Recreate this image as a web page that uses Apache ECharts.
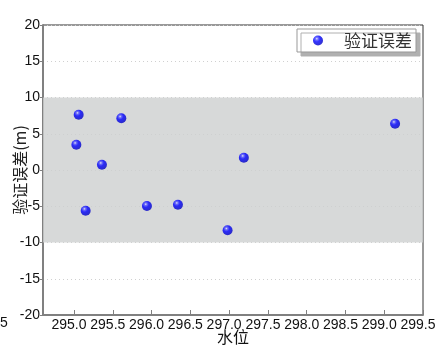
<!DOCTYPE html>
<html>
<head>
<meta charset="utf-8">
<script src="https://cdn.jsdelivr.net/npm/echarts@6/dist/echarts.min.js"></script>
<style>
  html, body { margin: 0; padding: 0; background: #fff; }
  #chart { width: 435px; height: 346px; }
</style>
</head>
<body>
<div id="chart"></div>
<script>
// Water level (x) and validation error in metres (y)
const waterLevel = [295.06, 295.61, 295.03, 295.36, 299.14, 297.19, 295.15, 295.94, 296.34, 296.98];
const errorValues = [7.63, 7.13, 3.49, 0.73, 6.39, 1.70, -5.61, -4.97, -4.79, -8.32];
const bandRange = [-10, 10];
const xTicks = [295.0, 295.5, 296.0, 296.5, 297.0, 297.5, 298.0, 298.5, 299.0, 299.5];
const seriesName = '验证误差';

const points = waterLevel.map((x, i) => [x, errorValues[i]]);

// glossy sphere look for the markers
const sphere = new echarts.graphic.RadialGradient(0.38, 0.32, 0.7, [
  { offset: 0, color: '#e8e8ff' },
  { offset: 0.18, color: '#5555ff' },
  { offset: 0.45, color: '#0000ff' },
  { offset: 1, color: '#0000c0' }
]);

const tickFont = { fontFamily: 'Liberation Sans, Arial, sans-serif', fontSize: 14, color: '#111' };
const cjkFont = 'Noto Sans CJK SC';

const chart = echarts.init(document.getElementById('chart'), null, { renderer: 'canvas' });
chart.setOption({
  animation: false,
  backgroundColor: '#fff',
  grid: {
    left: 43, right: 12, top: 25, bottom: 31,
    containLabel: false,
    outerBoundsMode: 'none',
    show: true, borderColor: '#333', borderWidth: 1, backgroundColor: 'transparent'
  },
  legend: {
    data: [seriesName],
    right: 19, top: 29,
    orient: 'horizontal',
    backgroundColor: '#fff',
    borderColor: '#999',
    borderWidth: 1,
    padding: [3, 4, 3, 16],
    itemGap: 0,
    itemWidth: 10, itemHeight: 10,
    shadowColor: '#b0b0b0',
    shadowBlur: 0,
    shadowOffsetX: 4,
    shadowOffsetY: 4,
    textStyle: { fontFamily: cjkFont, fontSize: 17, color: '#333', padding: [0, 0, 0, 16] }
  },
  xAxis: {
    type: 'value',
    min: 294.6, max: 299.5,
    interval: 0.5,
    name: '水位',
    nameLocation: 'middle',
    nameGap: 14,
    nameMoveOverlap: false,
    nameTextStyle: { fontFamily: cjkFont, fontSize: 16, color: '#111', verticalAlign: 'top' },
    axisLine: { show: true, onZero: false, lineStyle: { color: '#808080', width: 2 } },
    axisTick: {
      show: true, inside: true, length: 5, lineStyle: { color: '#808080', width: 1 },
      customValues: xTicks
    },
    axisLabel: {
      ...tickFont, margin: 3,
      padding: [0, 10, 0, 0],
      customValues: xTicks,
      hideOverlap: false,
      formatter: v => v.toFixed(1)
    },
    splitLine: { show: false }
  },
  yAxis: {
    type: 'value',
    min: -20, max: 20, interval: 5,
    name: '验证误差(m)',
    nameLocation: 'middle',
    nameGap: 15,
    nameMoveOverlap: false,
    nameTextStyle: { fontFamily: cjkFont, fontSize: 16, color: '#222' },
    axisLine: { show: true, lineStyle: { color: '#808080', width: 2 } },
    axisTick: { show: true, inside: false, length: 3, lineStyle: { color: '#808080' } },
    axisLabel: { ...tickFont, margin: 3 },
    splitLine: { show: true, lineStyle: { color: '#d0d0d0', type: [1, 3], width: 1 } }
  },
  graphic: [{
    type: 'text', left: 0, top: 316,
    style: { text: '5', font: '14px "Liberation Sans", Arial, sans-serif', fill: '#111' }
  }],
  series: [{
    name: seriesName,
    type: 'scatter',
    symbol: 'circle',
    symbolSize: 10,
    itemStyle: { color: sphere },
    data: points,
    z: 5,
    markArea: {
      silent: true,
      itemStyle: { color: 'rgba(205,207,208,0.8)' },
      data: [[{ yAxis: bandRange[0] }, { yAxis: bandRange[1] }]]
    }
  }]
});
</script>
</body>
</html>
